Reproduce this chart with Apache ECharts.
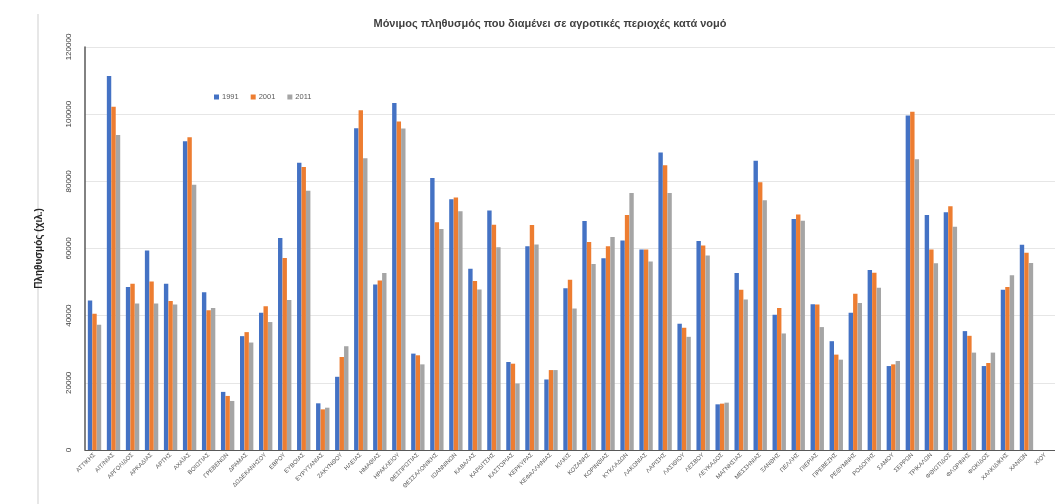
<!DOCTYPE html>
<html>
<head>
<meta charset="utf-8">
<script src="https://cdn.jsdelivr.net/npm/echarts@6/dist/echarts.min.js"></script>
<style>
html,body{margin:0;padding:0;background:#fff;}
#chart{width:1055px;height:504px;}
</style>
</head>
<body>
<div id="chart"></div>
<script>
const categories = ["ΑΤΤΙΚΗΣ","ΑΙΤ/ΝΙΑΣ","ΑΡΓΟΛΙΔΟΣ","ΑΡΚΑΔΙΑΣ","ΑΡΤΗΣ","ΑΧΑΪΑΣ","ΒΟΙΩΤΙΑΣ","ΓΡΕΒΕΝΩΝ","ΔΡΑΜΑΣ","ΔΩΔΕΚΑΝΗΣΟΥ",
"ΕΒΡΟΥ","ΕΥΒΟΙΑΣ","ΕΥΡΥΤΑΝΙΑΣ","ΖΑΚΥΝΘΟΥ","ΗΛΕΙΑΣ","ΗΜΑΘΙΑΣ","ΗΡΑΚΛΕΙΟΥ","ΘΕΣΠΡΩΤΙΑΣ","ΘΕΣΣΑΛΟΝΙΚΗΣ","ΙΩΑΝΝΙΝΩΝ",
"ΚΑΒΑΛΑΣ","ΚΑΡΔΙΤΣΗΣ","ΚΑΣΤΟΡΙΑΣ","ΚΕΡΚΥΡΑΣ","ΚΕΦΑΛΛΗΝΙΑΣ","ΚΙΛΚΙΣ","ΚΟΖΑΝΗΣ","ΚΟΡΙΝΘΙΑΣ","ΚΥΚΛΑΔΩΝ","ΛΑΚΩΝΙΑΣ",
"ΛΑΡΙΣΗΣ","ΛΑΣΙΘΙΟΥ","ΛΕΣΒΟΥ","ΛΕΥΚΑΔΟΣ","ΜΑΓΝΗΣΙΑΣ","ΜΕΣΣΗΝΙΑΣ","ΞΑΝΘΗΣ","ΠΕΛΛΗΣ","ΠΙΕΡΙΑΣ","ΠΡΕΒΕΖΗΣ",
"ΡΕΘΥΜΝΗΣ","ΡΟΔΟΠΗΣ","ΣΑΜΟΥ","ΣΕΡΡΩΝ","ΤΡΙΚΑΛΩΝ","ΦΘΙΩΤΙΔΟΣ","ΦΛΩΡΙΝΗΣ","ΦΩΚΙΔΟΣ","ΧΑΛΚΙΔΙΚΗΣ","ΧΑΝΙΩΝ","ΧΙΟΥ"];

const v1991 = [44500,111400,48500,59400,49500,91900,47000,17300,33900,40900,
63100,85500,13900,21800,95800,49300,103300,28700,81000,74700,
54000,71300,26200,60700,21000,48200,68200,57100,62400,59700,
88600,37600,62200,13600,52700,86100,40300,68800,43400,32400,
40900,53600,25000,99600,70000,70800,35400,25000,47700,61100,null];

const v2001 = [40600,102200,49500,50200,44400,93100,41600,16100,35100,42800,
57200,84300,12100,27700,101200,50500,97800,28200,67800,75200,
50300,67100,25700,67000,23800,50700,61900,60700,70000,59700,
84800,36400,60900,13800,47700,79700,42300,70100,43300,28400,
46500,52800,25500,100700,59700,72600,34000,25900,48500,58700,null];

const v2011 = [37300,93800,43600,43600,43300,79000,42300,14600,32000,38100,
44700,77200,12600,30900,86900,52700,95700,25500,65800,71100,
47800,60400,19800,61200,23800,42100,55400,63400,76500,56100,
76500,33700,57900,14100,44800,74400,34700,68300,36600,26900,
43800,48300,26500,86600,55600,66500,29000,29000,52000,55700,null];

const seriesNames = ["1991","2001","2011"];
const yTicks = {min:0, max:120000, interval:20000};

const chart = echarts.init(document.getElementById('chart'));
const font = '"Liberation Sans Narrow","Liberation Sans",Arial,sans-serif';
const colors = ['#4472C4','#ED7D31','#A5A5A5'];
const data = [v1991, v2001, v2011];

chart.setOption({
  animation:false,
  color: colors,
  textStyle:{fontFamily:font},
  title:{
    text:'Μόνιμος πληθυσμός που διαμένει σε αγροτικές περιοχές κατά νομό',
    left:545, top:13, textAlign:'center',
    textStyle:{fontSize:11, fontWeight:'bold', color:'#404040', fontFamily:font}
  },
  legend:{
    data: seriesNames,
    left:209, top:88,
    icon:'rect', itemWidth:5, itemHeight:5, itemGap:12,
    textStyle:{fontSize:7.5, color:'#595959', fontFamily:font, padding:[0,0,0,-2]}
  },
  grid:{left:85, right:-16, top:47, bottom:54, containLabel:false},
  xAxis:{
    type:'category',
    data: categories,
    axisLine:{show:true, lineStyle:{color:'#595959', width:1}},
    axisTick:{show:false},
    axisLabel:{interval:0, rotate:45, fontSize:6, color:'#595959', margin:4, fontFamily:font}
  },
  yAxis:{
    type:'value',
    min:yTicks.min, max:yTicks.max, interval:yTicks.interval,
    name:'Πληθυσμός (χιλ.)',
    nameLocation:'middle', nameGap:41, nameRotate:90,
    nameTextStyle:{fontSize:10, fontWeight:'bold', color:'#262626', fontFamily:font},
    axisLine:{show:true, lineStyle:{color:'#595959', width:1.5}},
    axisTick:{show:false},
    axisLabel:{rotate:90, fontSize:8, color:'#404040', margin:12, fontFamily:font,
      formatter: v => String(v)},
    splitLine:{show:true, lineStyle:{color:'#e6e6e6', width:1}}
  },
  graphic:[{
    type:'line', shape:{x1:38, y1:14, x2:38, y2:504},
    style:{stroke:'#cfcfcf', lineWidth:1}, silent:true
  }],
  series: seriesNames.map((n,i)=>({
    name:n, type:'bar', data:data[i],
    barWidth:4.4, barGap:'2%', barCategoryGap:'30%'
  }))
});
</script>
</body>
</html>
